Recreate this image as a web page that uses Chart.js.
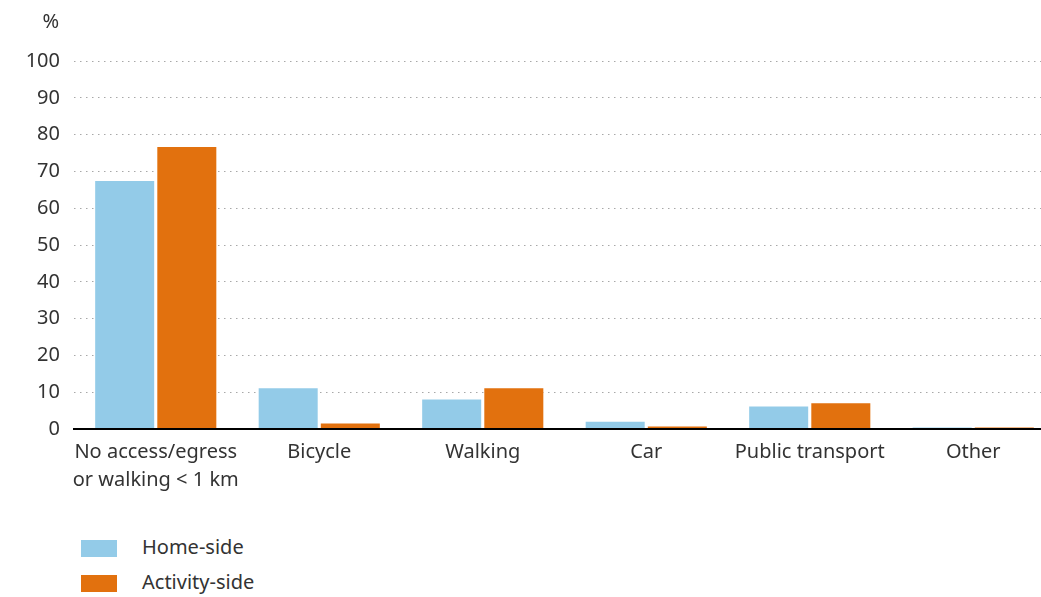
<!DOCTYPE html>
<html>
<head>
<meta charset="utf-8">
<script src="https://cdn.jsdelivr.net/npm/chart.js@4"></script>
<style>
  html, body { margin: 0; padding: 0; background: #fff; overflow: hidden; width: 1041px; height: 597px; }
  #wrap { position: absolute; left: 0; top: 0; width: 1056px; height: 500px; }
  #unit { position: absolute; right: calc(1041px - 59px); top: 7px; font: 20px "Noto Sans", sans-serif; color: #333; }
  #legend { position: absolute; left: 81px; top: 530px; font: 20px "Noto Sans", sans-serif; color: #333; }
  .li { position: relative; height: 35px; }
  .sw { position: absolute; left: 0; top: 10px; width: 36px; height: 17px; }
  .lt { position: absolute; left: 61px; top: 3px; white-space: nowrap; }
</style>
</head>
<body>
<div id="wrap"><canvas id="c" width="1056" height="500"></canvas></div>
<div id="unit">%</div>
<div id="legend"></div>
<script>
const categories = [["No access/egress", "or walking < 1 km"], "Bicycle", "Walking", "Car", "Public transport", "Other"];
const seriesNames = ["Home-side", "Activity-side"];
const homeSide = [67.4, 11.1, 8.0, 2.0, 6.1, 0.4];
const activitySide = [76.6, 1.5, 11.1, 0.7, 7.0, 0.4];
const yTicks = [0, 10, 20, 30, 40, 50, 60, 70, 80, 90, 100];
const colors = ["#93CBE8", "#E2710E"];

const FONT = '"Noto Sans", sans-serif';
const chart = new Chart(document.getElementById('c'), {
  type: 'bar',
  data: {
    labels: categories,
    datasets: [
      { label: seriesNames[0], data: homeSide, backgroundColor: colors[0], barPercentage: 0.95, categoryPercentage: 0.76 },
      { label: seriesNames[1], data: activitySide, backgroundColor: colors[1], barPercentage: 0.95, categoryPercentage: 0.76 }
    ]
  },
  options: {
    responsive: false,
    animation: false,
    layout: { padding: { top: 61, right: 1, left: 0, bottom: 0 } },
    plugins: { legend: { display: false }, tooltip: { enabled: false } },
    scales: {
      x: {
        grid: { display: false, drawTicks: false },
        border: { display: true, color: '#000', width: 2, z: 1 },
        ticks: { color: '#333', font: { family: FONT, size: 20, lineHeight: 1.4 }, padding: 9, maxRotation: 0, autoSkip: false },
        afterFit: s => { s.height = 71; }
      },
      y: {
        min: 0, max: 100,
        afterBuildTicks: s => { s.ticks = yTicks.map(v => ({ value: v })); },
        grid: { color: '#a8a8a8', lineWidth: 1, drawTicks: false },
        border: { display: false, dash: [1.5, 4.5] },
        ticks: { color: '#333', font: { family: FONT, size: 20 }, padding: 14 },
        afterFit: s => { s.width = 74; }
      }
    }
  }
});

const lg = document.getElementById('legend');
seriesNames.forEach((n, i) => {
  const d = document.createElement('div'); d.className = 'li';
  const sw = document.createElement('div'); sw.className = 'sw'; sw.style.background = colors[i];
  const t = document.createElement('div'); t.className = 'lt'; t.textContent = n;
  d.appendChild(sw); d.appendChild(t); lg.appendChild(d);
});
</script>
</body>
</html>
